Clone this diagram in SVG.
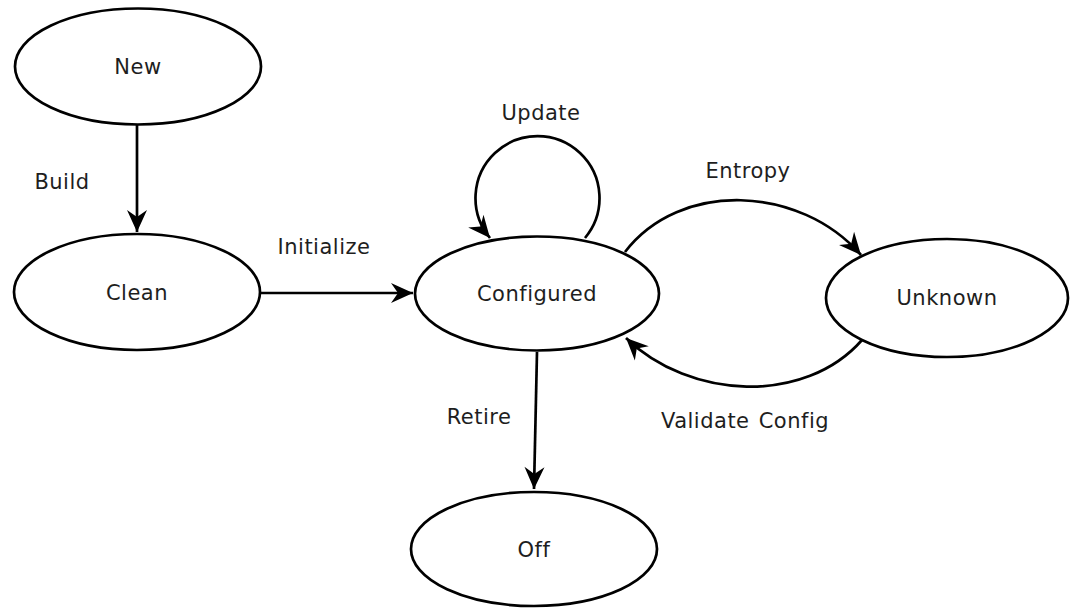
<svg xmlns="http://www.w3.org/2000/svg" width="1070" height="608" viewBox="0 0 1070 608">
  <style>
    .node ellipse { fill: #ffffff; stroke: #000000; stroke-width: 2.7; }
    text { font-family: "DejaVu Sans", "Liberation Sans", sans-serif; font-size: 21px; letter-spacing: 0.5px; word-spacing: 2px; fill: #1e1e1e; }
    .label { text-anchor: middle; }
    .edge { fill: none; stroke: #000000; stroke-width: 2.7; marker-end: url(#arrow); }
  </style>
  <defs>
    <marker id="arrow" markerUnits="userSpaceOnUse" markerWidth="26" markerHeight="26" viewBox="-24 -13 26 26" refX="0" refY="0" orient="auto">
      <path d="M0,0 L-22,-10 L-15,0 L-22,10 Z" fill="#000000"/>
    </marker>
  </defs>
  <rect width="1070" height="608" fill="#ffffff"/>

  <g id="connectors">
    <path class="edge" d="M137,125 L137,232"/>
    <path class="edge" d="M261,293 L413,293"/>
    <path class="edge" d="M585,238 A62,62 0 1 0 490,238"/>
    <path class="edge" d="M625,252 C680,180 800,185 861,255"/>
    <path class="edge" d="M862,340 C805,405 690,400 626,338"/>
    <path class="edge" d="M537,352 L534,489"/>
    <text x="62" y="189" class="label">Build</text>
    <text x="324" y="254" class="label">Initialize</text>
    <text x="541" y="120" class="label">Update</text>
    <text x="748" y="178" class="label">Entropy</text>
    <text x="745" y="428" class="label">Validate Config</text>
    <text x="479" y="424" class="label">Retire</text>
  </g>

  <g id="node-new" class="node">
    <ellipse cx="138" cy="66.5" rx="123" ry="58"/>
    <text x="138" y="74" class="label">New</text>
  </g>
  <g id="node-clean" class="node">
    <ellipse cx="137" cy="292" rx="123" ry="58"/>
    <text x="137" y="300" class="label">Clean</text>
  </g>
  <g id="node-configured" class="node">
    <ellipse cx="537" cy="293.5" rx="122" ry="57"/>
    <text x="537" y="301" class="label">Configured</text>
  </g>
  <g id="node-unknown" class="node">
    <ellipse cx="947" cy="298" rx="121" ry="59"/>
    <text x="947" y="305" class="label">Unknown</text>
  </g>
  <g id="node-off" class="node">
    <ellipse cx="534" cy="549" rx="123" ry="57"/>
    <text x="534" y="557" class="label">Off</text>
  </g>
</svg>
